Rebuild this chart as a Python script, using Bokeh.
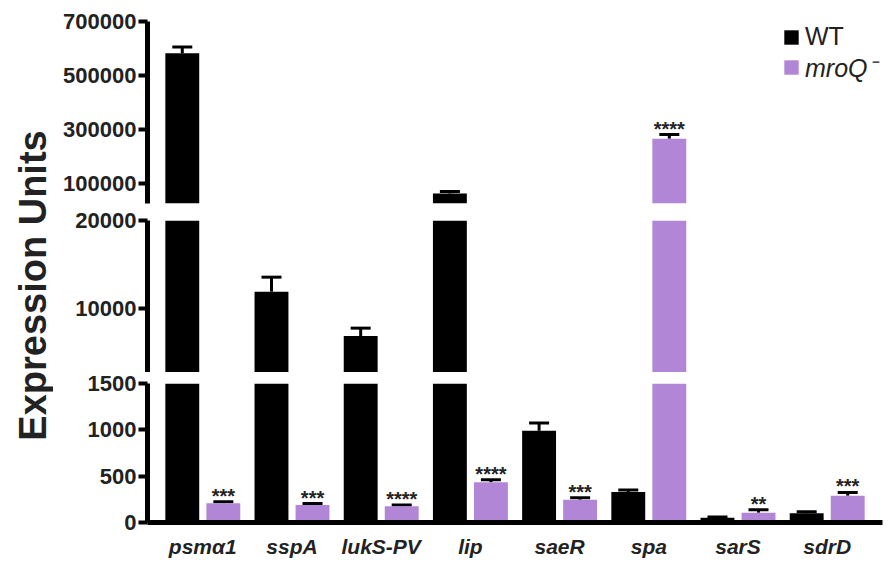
import math
from bokeh.plotting import figure
from bokeh.models import (FactorRange, Range1d, FixedTicker, BasicTickFormatter,
                          Legend, LegendItem, Label, ColumnDataSource)
from bokeh.transform import dodge
from bokeh.layouts import row, column
from bokeh.embed import file_html
from bokeh.resources import INLINE
from bokeh.core.properties import value

# ---- data ----
categories = ["psmα1", "sspA", "lukS-PV", "lip", "saeR", "spa", "sarS", "sdrD"]
wt_values = [583000, 11900, 6850, 64000, 990, 330, 50, 100]
wt_errors = [23000, 1650, 900, 7000, 85, 22, 10, 15]
mroq_values = [208, 190, 175, 435, 245, 266000, 105, 290]
mroq_errors = [15, 15, 15, 25, 22, 16000, 32, 35]
significance = ["***", "***", "****", "****", "***", "****", "**", "***"]

top_ticks = [100000, 300000, 500000, 700000]
mid_ticks = [10000, 20000]
low_ticks = [0, 500, 1000, 1500]

series_names = ["WT", "mroQ⁻"]

PURPLE = "#B286D6"
FONT = "Liberation Sans"

x_range = FactorRange(factors=categories, range_padding=0.12,
                      range_padding_units="absolute")

OFF = 0.23
BW = 0.38


def subset(vals, errs, y0, y1, need_top_in=False):
    """Rows of one series that show up inside the segment [y0, y1]."""
    cats, v, top, stars = [], [], [], []
    for i, c in enumerate(categories):
        t = vals[i] + errs[i]
        if need_top_in:
            ok = y0 <= t <= y1
        else:
            ok = vals[i] > y0
        if ok:
            cats.append(c)
            v.append(vals[i])
            top.append(t)
            stars.append(significance[i])
    return ColumnDataSource(dict(cat=cats, val=v, top=top, stars=stars))


def err_subset(vals, errs, y0, y1):
    cats, v, top = [], [], []
    for i, c in enumerate(categories):
        t = vals[i] + errs[i]
        if t > y0 and vals[i] < y1:
            cats.append(c)
            v.append(vals[i])
            top.append(t)
    return ColumnDataSource(dict(cat=cats, val=v, top=top))


def make_fig(height, y0, y1, ticks, btop, bbottom, with_xaxis):
    p = figure(width=838, height=height, x_range=x_range,
               y_range=Range1d(y0, y1), output_backend="svg",
               toolbar_location=None, min_border_left=94,
               min_border_right=9, min_border_top=btop,
               min_border_bottom=bbottom,
               x_axis_location="below" if with_xaxis else None)
    p.outline_line_color = None
    p.grid.visible = False
    p.background_fill_color = "white"
    p.border_fill_color = "white"

    ya = p.yaxis[0]
    ya.ticker = FixedTicker(ticks=ticks)
    ya.formatter = BasicTickFormatter(use_scientific=False)
    ya.axis_line_width = 5
    ya.axis_line_color = "black"
    ya.major_tick_line_width = 4
    ya.major_tick_out = 9
    ya.major_tick_in = 0
    ya.minor_tick_line_color = None
    ya.major_label_standoff = 2
    ya.major_label_text_font = FONT
    ya.major_label_text_font_style = "bold"
    ya.major_label_text_font_size = "22px"
    ya.major_label_text_color = "#222222"

    if with_xaxis:
        xa = p.xaxis[0]
        xa.axis_line_width = 5
        xa.axis_line_color = "black"
        xa.major_tick_line_color = None
        xa.minor_tick_line_color = None
        xa.major_tick_out = 0
        xa.major_label_standoff = 12
        xa.major_label_text_font = FONT
        xa.major_label_text_font_style = "bold italic"
        xa.major_label_text_font_size = "21px"
        xa.major_label_text_color = "#222222"

    x_wt = dodge("cat", -OFF, range=x_range)
    x_mq = dodge("cat", OFF, range=x_range)

    # error bars (upper only)
    for vals, errs, xx in ((wt_values, wt_errors, x_wt),
                           (mroq_values, mroq_errors, x_mq)):
        es = err_subset(vals, errs, y0, y1)
        p.segment(x0=xx, y0="val", x1=xx, y1="top", source=es,
                  line_color="black", line_width=3)
        p.scatter(x=xx, y="top", source=es, marker="dash", size=20,
                  line_color="black", line_width=3)

    r_wt = p.vbar(x=x_wt, top="val", bottom=0, width=BW,
                  source=subset(wt_values, wt_errors, y0, y1),
                  fill_color="black", line_color=None)
    r_mq = p.vbar(x=x_mq, top="val", bottom=0, width=BW,
                  source=subset(mroq_values, mroq_errors, y0, y1),
                  fill_color=PURPLE, line_color=None)

    # significance stars only where the error-bar top lies in this segment
    p.text(x=x_mq, y="top", text="stars",
           source=subset(mroq_values, mroq_errors, y0, y1, need_top_in=True),
           text_align="center", text_baseline="middle",
           text_font=value(FONT), text_font_size="20px",
           text_font_style="bold", text_color="#222222", y_offset=-6)
    return p, r_wt, r_mq


p_top, rw, rm = make_fig(208, 27000, 700000, top_ticks, 21, 5, False)
p_mid, _, _ = make_fig(164, 2700, 20000, mid_ticks, 12, 0, False)
p_low, _, _ = make_fig(191, 0, 1500, low_ticks, 11, 41, True)

leg_common = dict(padding=0, margin=0, spacing=0, glyph_width=18,
                  glyph_height=18, label_standoff=5, label_text_font=FONT,
                  label_text_font_size="25px", label_text_color="#222222",
                  border_line_alpha=0, background_fill_alpha=0)
leg1 = Legend(items=[LegendItem(label=series_names[0], renderers=[rw])],
              location=(635, 152), **leg_common)
leg2 = Legend(items=[LegendItem(label=series_names[1], renderers=[rm])],
              location=(635, 119), label_text_font_style="italic",
              **leg_common)
p_top.add_layout(leg1)
p_top.add_layout(leg2)

# y-axis title in a narrow side panel
t = figure(width=53, height=563, x_range=Range1d(0, 53), y_range=Range1d(0, 563),
           output_backend="svg", toolbar_location=None,
           x_axis_location=None, y_axis_location=None,
           min_border_left=0, min_border_right=0, min_border_top=0,
           min_border_bottom=0)
t.outline_line_color = None
t.grid.visible = False
t.add_layout(Label(x=32, y=278, text="Expression Units", angle=math.pi / 2,
                   text_align="center", text_baseline="middle",
                   text_font=FONT, text_font_style="bold",
                   text_font_size="38px", text_color="#222222"))

layout = row(t, column(p_top, p_mid, p_low))

open("out.html", "w").write(file_html(layout, INLINE))
